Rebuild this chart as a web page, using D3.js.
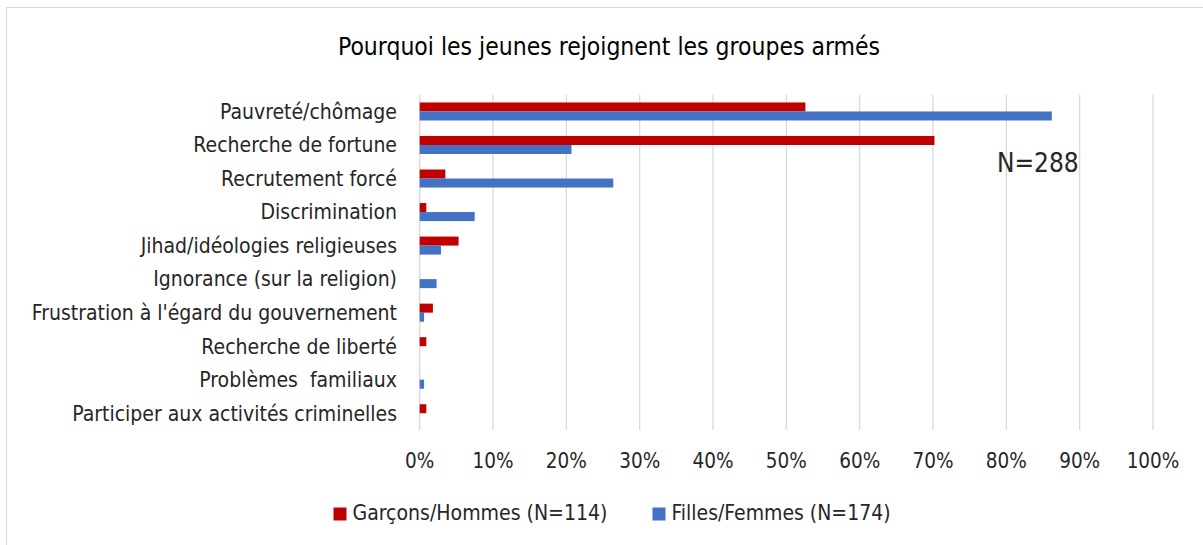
<!DOCTYPE html>
<html><head><meta charset="utf-8">
<script src="https://cdn.jsdelivr.net/npm/d3@7"></script>
<style>
html,body{margin:0;padding:0;background:#fff;}
text{font-family:"DejaVu Sans Condensed","DejaVu Sans",sans-serif;fill:#262626;white-space:pre;}
</style></head>
<body>
<svg id="chart" width="1203" height="545"></svg>
<script>
const categories = [
  "Pauvreté/chômage",
  "Recherche de fortune",
  "Recrutement forcé",
  "Discrimination",
  "Jihad/idéologies religieuses",
  "Ignorance (sur la religion)",
  "Frustration à l'égard du gouvernement",
  "Recherche de liberté",
  "Problèmes  familiaux",
  "Participer aux activités criminelles"
];
const seriesNames = ["Garçons/Hommes (N=114)", "Filles/Femmes (N=174)"];
const seriesColors = ["#C00000", "#4472C4"];
const garcons = [0.526, 0.702, 0.035, 0.009, 0.053, 0, 0.018, 0.009, 0, 0.009];
const filles  = [0.862, 0.207, 0.264, 0.075, 0.029, 0.023, 0.006, 0, 0.006, 0];
const xTicks = [0, 0.1, 0.2, 0.3, 0.4, 0.5, 0.6, 0.7, 0.8, 0.9, 1.0];
const title = "Pourquoi les jeunes rejoignent les groupes armés";
const note = "N=288";

const svg = d3.select("#chart");
svg.append("rect").attr("x", 6.5).attr("y", 7.5).attr("width", 1210).attr("height", 560)
  .attr("fill", "none").attr("stroke", "#d9d9d9").attr("stroke-width", 1);

const x = d3.scaleLinear().domain([0, 1]).range([419.7, 1153]);
const y = d3.scaleBand().domain(categories).range([94.7, 430]).padding(0);
const ySub = d3.scaleBand().domain([0, 1]).range([0, y.bandwidth()]).paddingInner(0).paddingOuter(0.86);

// gridlines
svg.append("g").selectAll("line").data(xTicks).join("line")
  .attr("x1", d => x(d)).attr("x2", d => x(d))
  .attr("y1", 94.7).attr("y2", 430)
  .attr("stroke", "#d9d9d9").attr("stroke-width", 1.3);

const data = [garcons, filles];
data.forEach((vals, si) => {
  svg.append("g").selectAll("rect").data(vals).join("rect")
    .attr("x", x(0))
    .attr("y", (d, i) => y(categories[i]) + ySub(si))
    .attr("width", d => x(d) - x(0))
    .attr("height", ySub.bandwidth())
    .attr("fill", seriesColors[si]);
});

// category labels
svg.append("g").selectAll("text").data(categories).join("text")
  .attr("x", 397).attr("y", d => y(d) + y.bandwidth() / 2)
  .attr("dy", "0.35em").attr("text-anchor", "end")
  .style("font-size", "21px").text(d => d);

// x tick labels
const fmt = d3.format(".0%");
svg.append("g").selectAll("text").data(xTicks).join("text")
  .attr("x", d => x(d)).attr("y", 468)
  .attr("text-anchor", "middle").style("font-size", "20.5px").text(d => fmt(d));

// title
svg.append("text").attr("x", 338).attr("y", 54.5)
  .attr("textLength", 542).attr("lengthAdjust", "spacingAndGlyphs")
  .style("font-size", "24px").style("fill", "#000").text(title);

// note
svg.append("text").attr("x", 997).attr("y", 172).style("font-size", "26px").text(note);

// legend
const legendX = [333.5, 652.5];
const legendW = [255, 219];
seriesNames.forEach((n, i) => {
  svg.append("rect").attr("x", legendX[i]).attr("y", 507.5).attr("width", 13).attr("height", 13)
    .attr("fill", seriesColors[i]);
  svg.append("text").attr("x", legendX[i] + 19).attr("y", 520)
    .attr("textLength", legendW[i]).attr("lengthAdjust", "spacingAndGlyphs")
    .style("font-size", "21px").text(n);
});
</script>
</body></html>
